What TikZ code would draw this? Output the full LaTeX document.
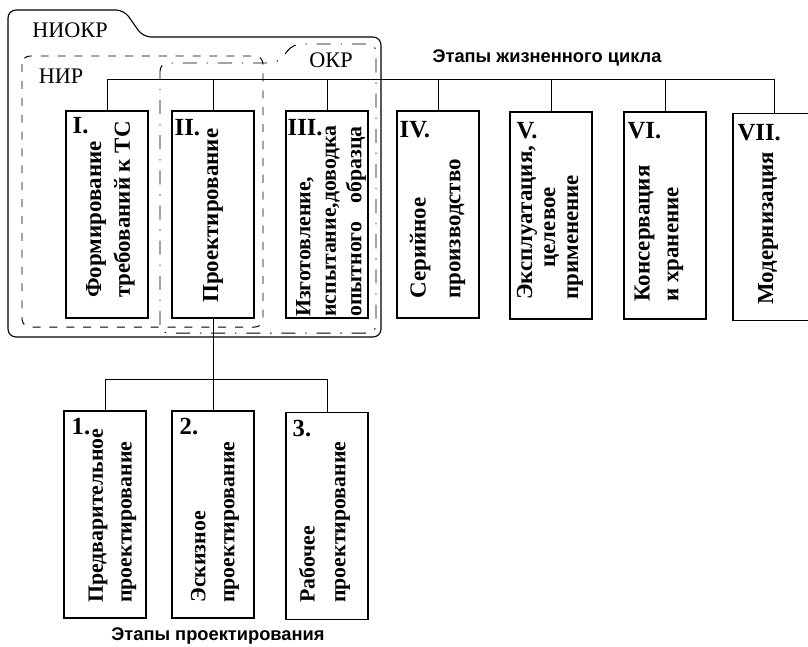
\documentclass[tikz,border=0pt]{standalone}
\usepackage{fontspec}
\setmainfont{Liberation Serif}
\setsansfont{Liberation Sans}
\usepackage{tikz}
\usetikzlibrary{calc}

\begin{document}
\begin{tikzpicture}[x=0.025cm, y=-0.025cm,
  stagebox/.style={draw, line width=0.8pt, minimum width=2.05cm, minimum height=5.175cm, inner sep=0},
  stagetext/.style={rotate=90, anchor=west, align=left, inner sep=0, font=\fontsize{16.3}{20.5}\selectfont\bfseries},
  smalltext/.style={stagetext, font=\fontsize{15.5}{20.5}\selectfont\bfseries},
  stagenum/.style={anchor=north west, inner sep=0, font=\fontsize{17.5}{20}\selectfont\bfseries},
  grouplabel/.style={inner sep=0, font=\fontsize{15.8}{18}\selectfont},
  stagecap/.style={inner sep=0, font=\sffamily\bfseries\fontsize{13}{15}\selectfont},
  link/.style={line width=0.6pt},
  nirline/.style={line width=0.7pt, dash pattern=on 5.7pt off 6.3pt},
  okrline/.style={line width=0.7pt, dash pattern=on 10pt off 7pt on 1pt off 7pt}]
\useasboundingbox (0,0) rectangle (808,646);

% groups
\draw[line width=0.8pt, rounded corners=0.2cm] (8,337) -- (8,10) -- (124,10) -- (143,37) -- (381,37) -- (381,337) -- cycle;
\draw[nirline, rounded corners=0.2cm] (22,56) rectangle (263,327);
\draw[okrline, rounded corners=0.2cm] (160,333) -- (160,63) -- (278,63) -- (293,44) -- (376,44) -- (376,333) -- cycle;
\node[grouplabel] (niokr) at (70,30) {НИОКР};
\node[grouplabel] (nir)   at (61,76) {НИР};
\node[grouplabel] (okr)   at (331,60) {ОКР};

% life cycle stages
\node[stagebox] (s1) at (107,214.5) {};
\node[stagebox] (s2) at (213,214.5) {};
\node[stagebox] (s3) at (327,214.5) {};
\node[stagebox] (s4) at (438,214.5) {};
\node[stagebox] (s5) at (551,215.5) {};
\node[stagebox] (s6) at (665,215.5) {};
\node[stagebox] (s7) at (774,217) {};

\node[stagenum] (n1) at ([shift={(7,7)}]s1.north west) {I.};
\node[stagenum] (n2) at ([shift={(3,9)}]s2.north west) {II.};
\node[stagenum] (n3) at ([shift={(2,9)}]s3.north west) {III.};
\node[stagenum] (n4) at ([shift={(3,11)}]s4.north west) {IV.};
\node[stagenum] (n5) at ([shift={(7,11)}]s5.north west) {V.};
\node[stagenum] (n6) at ([shift={(4,11)}]s6.north west) {VI.};
\node[stagenum] (n7) at ([shift={(5,11)}]s7.north west) {VII.};

\node[stagetext] (t1) at (110.5,298) {Формирование\\требований к ТС};
\node[stagetext] (t2) at (213,303) {Проектирование};
\node[smalltext] (t3) at (331,317) {Изготовление,\\[-2.4pt]испытание,доводка\\[-2.4pt]опытного\hspace{0.6em} образца};
\node[stagetext] (t4) at (437.5,299) {Серийное\\[4.3pt]производство};
\node[stagetext] (t5) at (550,300) {Эксплуатация,\\[-4.2pt]\hspace*{23pt}целевое\\[-4.2pt]применение};
\node[stagetext] (t6) at (659,302) {Консервация\\и хранение};
\node[stagetext] (t7) at (768,305) {Модернизация};

\node[stagecap] (lifecap) at (547,58) {Этапы жизненного цикла};

\coordinate (bus) at (0,79);
\draw[link] (s1.north |- bus) -- (s7.north |- bus);
\foreach \s in {s1,s2,s3,s4,s5,s6,s7}
  \draw[link] (\s.north) -- (\s.north |- bus);

% design stages
\node[stagebox] (p1) at (105,514.5) {};
\node[stagebox] (p2) at (213,514.5) {};
\node[stagebox] (p3) at (327,516) {};

\node[stagenum] (m1) at ([shift={(8,8)}]p1.north west) {1.};
\node[stagenum] (m2) at ([shift={(8,8)}]p2.north west) {2.};
\node[stagenum] (m3) at ([shift={(7,8)}]p3.north west) {3.};

\node[smalltext] (q1) at (112.5,603) {Предварительное\\проектирование};
\node[smalltext] (q2) at (215,603) {Эскизное\\проектирование};
\node[smalltext] (q3) at (324.5,603) {Рабочее\\[1.4pt]проектирование};

\node[stagecap] (designcap) at (218,636) {Этапы проектирования};

\coordinate (pbus) at (0,379);
\draw[link] (s2.south) -- (p2.north);
\draw[link] (p1.north |- pbus) -- (p3.north |- pbus);
\foreach \p in {p1,p3}
  \draw[link] (\p.north) -- (\p.north |- pbus);
\end{tikzpicture}
\end{document}
